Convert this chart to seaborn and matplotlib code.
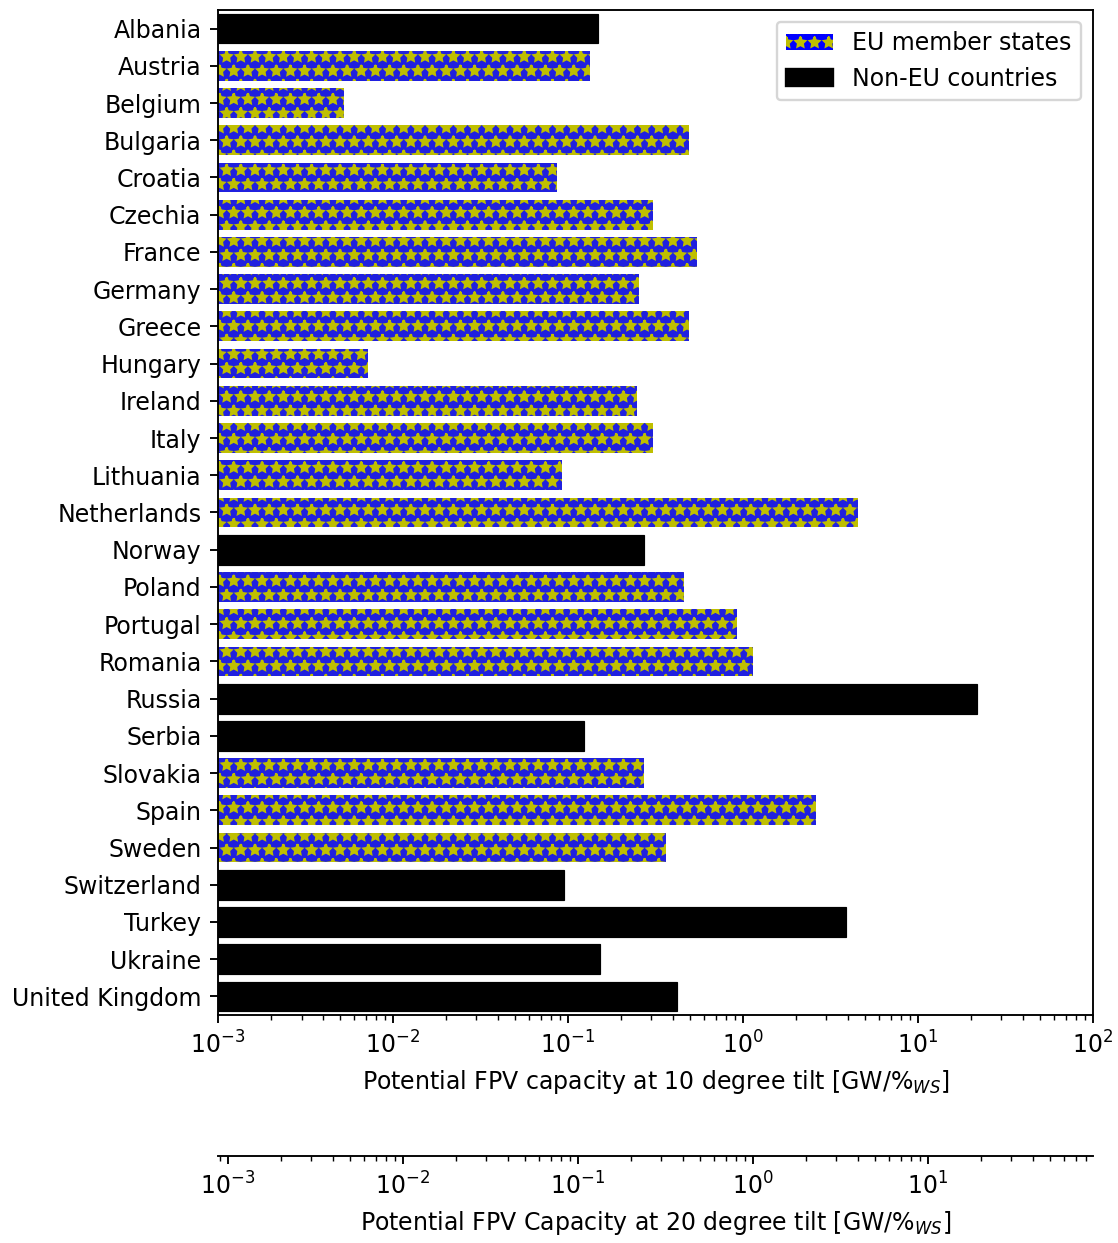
import matplotlib
matplotlib.use("Agg")
import matplotlib.pyplot as plt
from matplotlib.patches import Patch
import seaborn as sns
import pandas as pd

countries = [
    "Albania", "Austria", "Belgium", "Bulgaria", "Croatia", "Czechia", "France",
    "Germany", "Greece", "Hungary", "Ireland", "Italy", "Lithuania", "Netherlands",
    "Norway", "Poland", "Portugal", "Romania", "Russia", "Serbia", "Slovakia",
    "Spain", "Sweden", "Switzerland", "Turkey", "Ukraine", "United Kingdom",
]
capacity_10deg = [
    0.148, 0.134, 0.00525, 0.49, 0.0865, 0.306, 0.546,
    0.255, 0.49, 0.0072, 0.248, 0.306, 0.0925, 4.54,
    0.272, 0.46, 0.925, 1.14, 21.7, 0.123, 0.272,
    2.61, 0.363, 0.0948, 3.88, 0.152, 0.42,
]
eu_member = [
    False, True, True, True, True, True, True,
    True, True, True, True, True, True, True,
    False, True, True, True, False, False, True,
    True, True, False, False, False, False,
]
group_labels = ["EU member states", "Non-EU countries"]
tilt20_over_tilt10 = 1 / 1.14

df = pd.DataFrame({
    "country": countries,
    "capacity": capacity_10deg,
    "group": [group_labels[0] if e else group_labels[1] for e in eu_member],
})

plt.rcParams["font.size"] = 10
plt.rcParams["hatch.linewidth"] = 1.0
dpi = 170
fig, ax = plt.subplots(figsize=(1118 / dpi, 1243 / dpi), dpi=dpi)
fig.subplots_adjust(left=0.195, right=0.9776, top=0.992, bottom=0.1834)

ax.set_xscale("log")
sns.barplot(
    data=df, x="capacity", y="country", hue="group", hue_order=group_labels,
    palette={group_labels[0]: "b", group_labels[1]: "k"},
    dodge=False, orient="h", legend=False, ax=ax, width=0.8,
)

# Star hatch for the EU bars
for container, label in zip(ax.containers, group_labels):
    for bar in container:
        if label == group_labels[0]:
            bar.set_hatch("**")
            bar.set_edgecolor("y")
            bar.set_linewidth(0)
        else:
            bar.set_edgecolor("k")
            bar.set_linewidth(0.5)

ax.set_xlim(1e-3, 1e2)
ax.set_ylabel("")
ax.set_xlabel("Potential FPV capacity at 10 degree tilt [GW/%$_{WS}$]")

handles = [
    Patch(facecolor="b", edgecolor="y", hatch="**", linewidth=0, label=group_labels[0]),
    Patch(facecolor="k", edgecolor="k", label=group_labels[1]),
]
ax.legend(handles=handles, loc="upper right")

sec = ax.secondary_xaxis(
    -0.140,
    functions=(lambda x: x * tilt20_over_tilt10, lambda x: x / tilt20_over_tilt10),
)
sec.set_xlabel("Potential FPV Capacity at 20 degree tilt [GW/%$_{WS}$]")

fig.savefig("out.png", dpi=dpi)
